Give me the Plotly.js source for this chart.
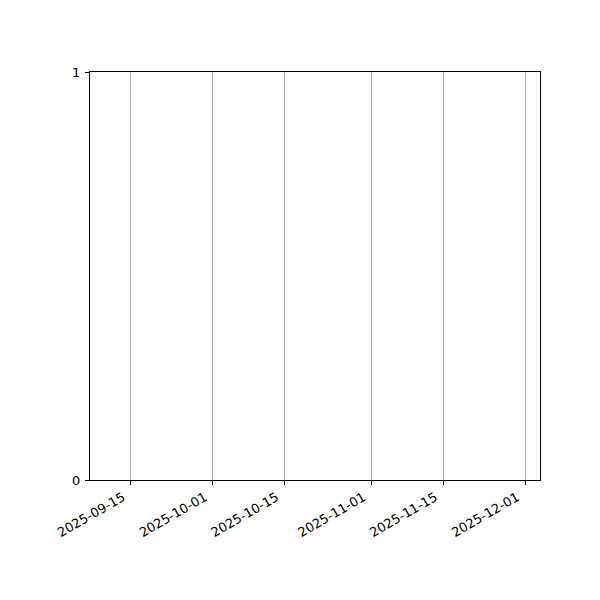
<!DOCTYPE html>
<html>
<head>
<meta charset="utf-8">
<script src="https://cdn.plot.ly/plotly-3.0.1.min.js"></script>
<style>
  html, body { margin: 0; padding: 0; background: #fff; }
  #chart { width: 600px; height: 600px; }
</style>
</head>
<body>
<div id="chart"></div>
<script>
    // --- DATA (the series is empty in the reference) ---
    const dates = [];
    const values = [];
    const xTickVals = ['2025-09-15', '2025-10-01', '2025-10-15', '2025-11-01', '2025-11-15', '2025-12-01'];
    const xRange = ['2025-09-07', '2025-12-03 22:00'];
    const yTickVals = [0, 1];
    const yRange = [0, 1];

    const trace = {
        type: 'scatter',
        mode: 'lines',
        x: dates,
        y: values,
        line: { color: '#1f77b4', width: 1.5 },
        showlegend: false
    };

    const axisCommon = {
        showline: true,
        mirror: true,
        linecolor: 'black',
        linewidth: 1,
        ticks: 'outside',
        ticklen: 4,
        tickwidth: 1,
        tickcolor: 'black',
        zeroline: false,
        tickfont: { family: 'DejaVu Sans', size: 13, color: 'black' }
    };

    const layout = {
        width: 600,
        height: 600,
        margin: { l: 90, r: 60, t: 72, b: 120 },
        paper_bgcolor: 'white',
        plot_bgcolor: 'white',
        xaxis: Object.assign({}, axisCommon, {
            type: 'date',
            range: xRange,
            tickmode: 'array',
            tickvals: xTickVals,
            ticktext: xTickVals,
            tickangle: -30,
            ticklabelshift: -8,
            showgrid: true,
            gridcolor: '#b0b0b0',
            gridwidth: 1
        }),
        yaxis: Object.assign({}, axisCommon, {
            range: yRange,
            tickmode: 'array',
            tickvals: yTickVals,
            ticktext: yTickVals.map(String),
            ticklabelstandoff: 2,
            showgrid: false
        })
    };

    Plotly.newPlot('chart', [trace], layout, { displayModeBar: false, staticPlot: true });
</script>
</body>
</html>
